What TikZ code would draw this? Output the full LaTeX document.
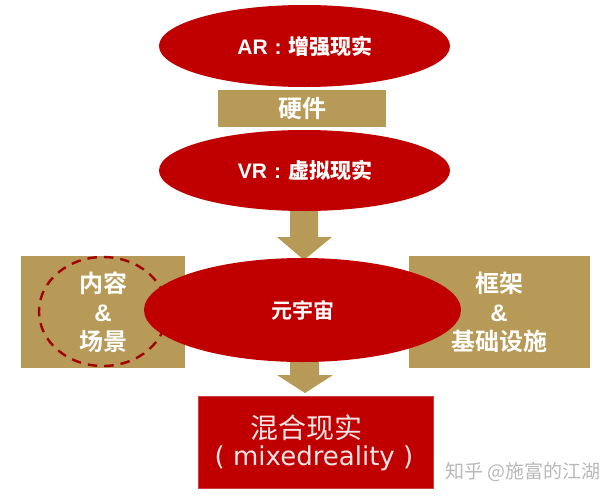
\documentclass[tikz,border=0pt]{standalone}
\usepackage{fontspec}
\setmainfont{Liberation Sans}
\newfontfamily\cjk{Noto Sans CJK SC}
\newfontfamily\cjkb{Noto Sans CJK SC Bold}
\newfontfamily\wide{DejaVu Sans}
\definecolor{redfill}{HTML}{C00000}
\definecolor{goldfill}{HTML}{B79A57}
\usetikzlibrary{shapes.geometric}
\tikzset{
  x=1pt,y=-1pt,
  redell/.style={fill=redfill,inner sep=0pt,ellipse},
  goldbox/.style={fill=goldfill,inner sep=0pt,text=white,align=center},
  goldarrow/.style={fill=goldfill},
  lab/.style={text=white,font=\fontsize{21}{25}\selectfont\bfseries},
  blab/.style={text=white,align=center,font=\cjkb\fontsize{24}{30}\selectfont},
}
\begin{document}
\begin{tikzpicture}
\useasboundingbox (0,0) rectangle (614,498);
% arrows
\fill[goldarrow] (290,205) -- (318,205) -- (318,237) -- (332,237) -- (304,260) -- (277,237) -- (290,237) -- cycle;
\fill[goldarrow] (290,350) -- (319,350) -- (319,375) -- (333,375) -- (305,393) -- (277,375) -- (290,375) -- cycle;
% boxes
\node[goldbox,minimum width=168pt,minimum height=37pt] (hw) at (302,108.5) {};
\node[blab] (hwt) at (hw) {硬件};
\node[goldbox,minimum width=164pt,minimum height=112pt] (content) at (103,312) {};
\node[goldbox,minimum width=181pt,minimum height=112pt] (frame) at (499.5,312) {};
\node[blab] (contentt) at (103,312.5) {内容\\[-1pt]{\bfseries\fontspec{Liberation Sans}\&}\\[-1pt]场景};
\node[blab] (framet) at (499,312.5) {框架\\[-1pt]{\bfseries\fontspec{Liberation Sans}\&}\\[-1pt]基础设施};
% dashed ring
\draw[redfill!85!black,line width=2.4pt,dash pattern=on 9.5pt off 7pt] (103,311.5) ellipse [x radius=64,y radius=54.5];
% ellipses
\node[redell,minimum width=291pt,minimum height=82pt] (ar) at (304.5,46) {};
\node[lab] (art) at (305,46) {AR\hspace{7pt}:\hspace{7pt}{\cjkb 增强现实}};
\node[redell,minimum width=291pt,minimum height=81pt] (vr) at (304.5,170.5) {};
\node[lab] (vrt) at (305,170.5) {VR\hspace{7pt}:\hspace{7pt}{\cjkb 虚拟现实}};
\node[redell,minimum width=317pt,minimum height=104pt] (meta) at (302.5,310) {};
\node[text=white,font=\cjkb\fontsize{21}{25}\selectfont] (metat) at (meta) {元宇宙};
% result
\node[fill=redfill,draw=redfill!75!white,line width=.6pt,inner sep=0pt,minimum width=235pt,minimum height=92pt] (mr) at (315.5,442) {};
\node[text=white!90!redfill,font=\cjk\fontsize{28}{34}\selectfont] (mra) at (306,428) {混合现实};
\node[text=white!90!redfill,font=\wide\fontsize{26}{32}\selectfont] (mrb) at (314,458) {( mixedreality )};
% watermark
\node[text=black!28,font=\cjk\fontsize{19}{23}\selectfont,anchor=west,inner sep=0pt] (wm) at (445,472) {知乎 @施富的江湖};
\end{tikzpicture}
\end{document}
